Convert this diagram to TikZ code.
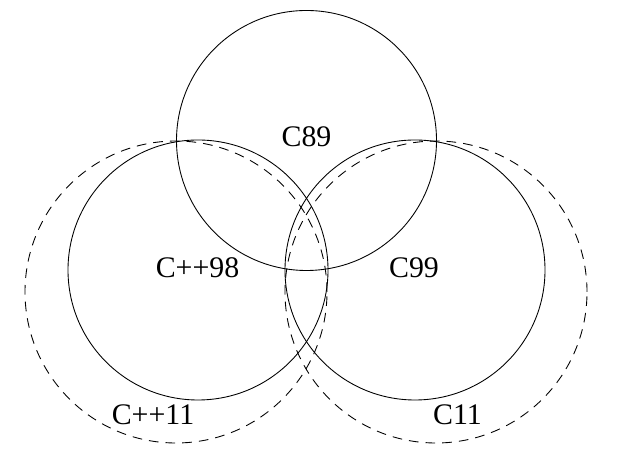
\documentclass[tikz,border=0pt]{standalone}
\usepackage{fontspec}
\setmainfont{Liberation Serif}
\usepackage{tikz}
\usetikzlibrary{positioning}

\begin{document}
\begin{tikzpicture}[every node/.style={font=\fontsize{17}{20}\selectfont},
  std/.style={line width=0.5pt},
  newstd/.style={line width=0.5pt, dash pattern=on 5.5pt off 4pt}]
  \useasboundingbox (0,0) rectangle (12.42,9.22);

  % C family
  \draw[std] (6.13,6.41) circle (2.6);
  \draw[std] (8.30,3.82) circle (2.6);
  \draw[newstd] (8.72,3.38) circle (3.02);

  % C++ family
  \draw[std] (3.96,3.82) circle (2.6);
  \draw[newstd] (3.52,3.38) circle (3.02);

  \node (c89) at (6.13,6.48) {C89};
  \node (c99) at (8.28,3.86) {C99};
  \node (cpp98) at (3.95,3.86) {C++98};
  \node (c11) at (9.15,0.92) {C11};
  \node (cpp11) at (3.06,0.92) {C++11};
\end{tikzpicture}
\end{document}
